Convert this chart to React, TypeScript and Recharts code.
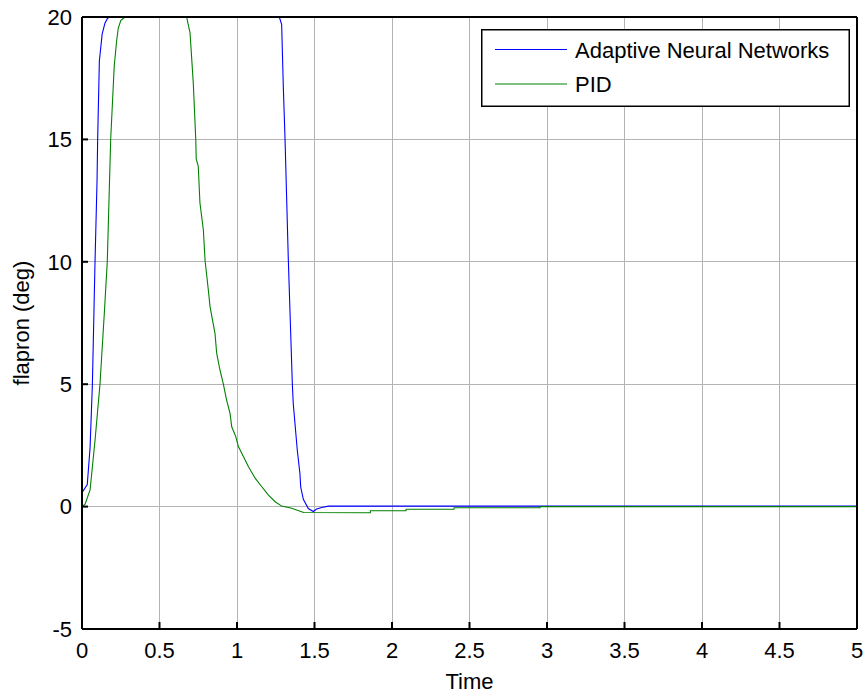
import React from 'react';
import { LineChart, Line, XAxis, YAxis, CartesianGrid, Legend } from 'recharts';

const xTicks = [0, 0.5, 1, 1.5, 2, 2.5, 3, 3.5, 4, 4.5, 5];
const yTicks = [-5, 0, 5, 10, 15, 20];

const annName = 'Adaptive Neural Networks';
const pidName = 'PID';

const annTime = [
  0, 0.003, 0.034, 0.052, 0.067, 0.084, 0.097, 0.101, 0.112, 0.13, 0.148, 0.165, 0.18,
  1.273, 1.288, 1.299, 1.31, 1.331, 1.357, 1.363, 1.389, 1.406, 1.411, 1.428, 1.46,
  1.492, 1.514, 1.546, 1.59, 5,
];
const annValue = [
  0, 0.6, 0.9, 2.4, 5.0, 10.0, 13.3, 15.0, 18.2, 19.3, 19.75, 19.95, 20,
  20, 19.7, 17.1, 15.0, 10.1, 5.0, 4.2, 2.3, 1.35, 0.8, 0.3, -0.08,
  -0.2, -0.1, -0.04, 0.02, 0.02,
];

const pidTime = [
  0, 0.02, 0.052, 0.084, 0.116, 0.144, 0.163, 0.172, 0.185, 0.208, 0.224, 0.234, 0.25,
  0.267, 0.28, 0.675, 0.697, 0.718, 0.734, 0.737, 0.75, 0.761, 0.783, 0.794, 0.815,
  0.826, 0.858, 0.869, 0.89, 0.912, 0.933, 0.955, 0.966, 0.992, 1.009, 1.042, 1.074,
  1.117, 1.16, 1.203, 1.246, 1.288, 1.353, 1.43, 1.86, 1.861, 2.09, 2.091, 2.4, 2.401,
  2.955, 2.956, 5,
];
const pidValue = [
  0, 0.1, 0.68, 2.7, 5.0, 7.9, 10.0, 12.0, 15.0, 18.0, 19.06, 19.54, 19.85,
  19.95, 20, 20, 19.35, 17.3, 15.0, 14.2, 13.9, 12.4, 11.3, 10.05, 8.85,
  8.17, 7.08, 6.26, 5.58, 5.0, 4.35, 3.81, 3.26, 2.86, 2.45, 2.04, 1.63,
  1.16, 0.81, 0.47, 0.2, 0.02, -0.07, -0.24, -0.25, -0.17, -0.17, -0.11, -0.11, -0.045,
  -0.045, 0, 0,
];

const annData = annTime.map((t, i) => ({ t, v: annValue[i] }));
const pidData = pidTime.map((t, i) => ({ t, v: pidValue[i] }));

const FONT = '"Liberation Sans", Arial, Helvetica, sans-serif';
const xMin = xTicks[0];
const xMax = xTicks[xTicks.length - 1];
const yMin = yTicks[0];
const yMax = yTicks[yTicks.length - 1];

const X_TICK_SIZE = 6;
const X_TICK_MARGIN = 7;
const Y_TICK_SIZE = 6;
const Y_TICK_MARGIN = 4;
const INNER_X_TICK = 7;
const INNER_Y_TICK = 6;
const FRAME = { stroke: '#000000', strokeWidth: 2 };
const TICK_W = 2;

const CSS = `
.recharts-cartesian-grid line { shape-rendering: crispEdges; }
`;

const XTick = (p: any) => {
  const { x, y, payload } = p;
  const axisY = y - X_TICK_SIZE - X_TICK_MARGIN;
  return (
    <g>
      <line x1={x} x2={x} y1={axisY} y2={axisY - INNER_X_TICK} stroke="#000000" strokeWidth={TICK_W} />
      <text x={x} y={y} dy="0.71em" textAnchor="middle" fontSize={22} fill="#000" fontFamily={FONT}>
        {String(payload.value)}
      </text>
    </g>
  );
};

const YTick = (p: any) => {
  const { x, y, payload } = p;
  const axisX = x + Y_TICK_SIZE + Y_TICK_MARGIN;
  return (
    <g>
      <line x1={axisX} x2={axisX + INNER_Y_TICK} y1={y} y2={y} stroke="#000000" strokeWidth={TICK_W} />
      <text x={x} y={y} dy="0.355em" textAnchor="end" fontSize={22} fill="#000" fontFamily={FONT}>
        {String(payload.value)}
      </text>
    </g>
  );
};

const TopTick = (p: any) => {
  const { x, y } = p;
  return <line x1={x} x2={x} y1={y} y2={y + INNER_X_TICK} stroke="#000000" strokeWidth={TICK_W} />;
};

const RightTick = (p: any) => {
  const { x, y } = p;
  return <line x1={x} x2={x - INNER_Y_TICK} y1={y} y2={y} stroke="#000000" strokeWidth={TICK_W} />;
};

const renderLegend = (props: any) => {
  const items = props.payload || [];
  return (
    <svg width={370} height={79} style={{ display: 'block' }}>
      <rect x={0.75} y={0.75} width={367.5} height={76.5} fill="#fff" stroke="#000" strokeWidth={1.5} />
      {items.map((it: any, i: number) => (
        <g key={i}>
          <line x1={14} x2={86} y1={20.5 + i * 34.5} y2={20.5 + i * 34.5} stroke={it.color} strokeWidth={1.2} />
          <text x={94} y={28.5 + i * 34.5} fontSize={22} fill="#000" fontFamily={FONT}>
            {it.value}
          </text>
        </g>
      ))}
    </svg>
  );
};

const yLabel = (props: any) => {
  const vb = props.viewBox || { x: 0, y: 17, width: 82, height: 612 };
  const cy = vb.y + vb.height / 2;
  const cx = 29;
  return (
    <text
      x={cx}
      y={cy}
      transform={`rotate(-90 ${cx} ${cy})`}
      textAnchor="middle"
      fontSize={22}
      fill="#000"
      fontFamily={FONT}
    >
      flapron (deg)
    </text>
  );
};

export default function App() {
  return (
    <div style={{ position: 'absolute', left: 0, top: 0, width: 868, height: 694, background: '#fff', fontFamily: FONT }}>
      <style>{CSS}</style>
      <LineChart width={868} height={694} margin={{ top: 17, right: 11, left: 0, bottom: 0 }}>
        <CartesianGrid stroke="#b4b4b4" strokeWidth={1} />
        <XAxis
          type="number"
          dataKey="t"
          domain={[xMin, xMax]}
          ticks={xTicks}
          interval={0}
          axisLine={FRAME}
          tickLine={false}
          tickSize={X_TICK_SIZE}
          tickMargin={X_TICK_MARGIN}
          height={65}
          tick={<XTick />}
          label={{ value: 'Time', position: 'insideBottom', offset: 5, fontSize: 22, fill: '#000', fontFamily: FONT }}
        />
        <XAxis
          xAxisId="top"
          orientation="top"
          type="number"
          domain={[xMin, xMax]}
          ticks={xTicks}
          interval={0}
          mirror
          height={1}
          tickSize={0}
          tickMargin={0}
          tickLine={false}
          tick={<TopTick />}
          axisLine={FRAME}
        />
        <YAxis
          type="number"
          domain={[yMin, yMax]}
          ticks={yTicks}
          interval={0}
          axisLine={FRAME}
          tickLine={false}
          tickSize={Y_TICK_SIZE}
          tickMargin={Y_TICK_MARGIN}
          width={82}
          tick={<YTick />}
          label={yLabel}
        />
        <YAxis
          yAxisId="right"
          orientation="right"
          type="number"
          domain={[yMin, yMax]}
          ticks={yTicks}
          interval={0}
          mirror
          width={1}
          tickSize={0}
          tickMargin={0}
          tickLine={false}
          tick={<RightTick />}
          axisLine={FRAME}
        />
        <Line
          data={annData}
          dataKey="v"
          name={annName}
          type="linear"
          stroke="#0000ff"
          strokeWidth={1.1}
          dot={false}
          legendType="line"
          isAnimationActive={false}
        />
        <Line
          data={pidData}
          dataKey="v"
          name={pidName}
          type="linear"
          stroke="#008000"
          strokeWidth={1.1}
          dot={false}
          legendType="line"
          isAnimationActive={false}
        />
        <Legend
          layout="horizontal"
          verticalAlign="middle"
          align="center"
          content={renderLegend}
          wrapperStyle={{ left: 481, top: 29, width: 370, height: 79 }}
        />
      </LineChart>
    </div>
  );
}
